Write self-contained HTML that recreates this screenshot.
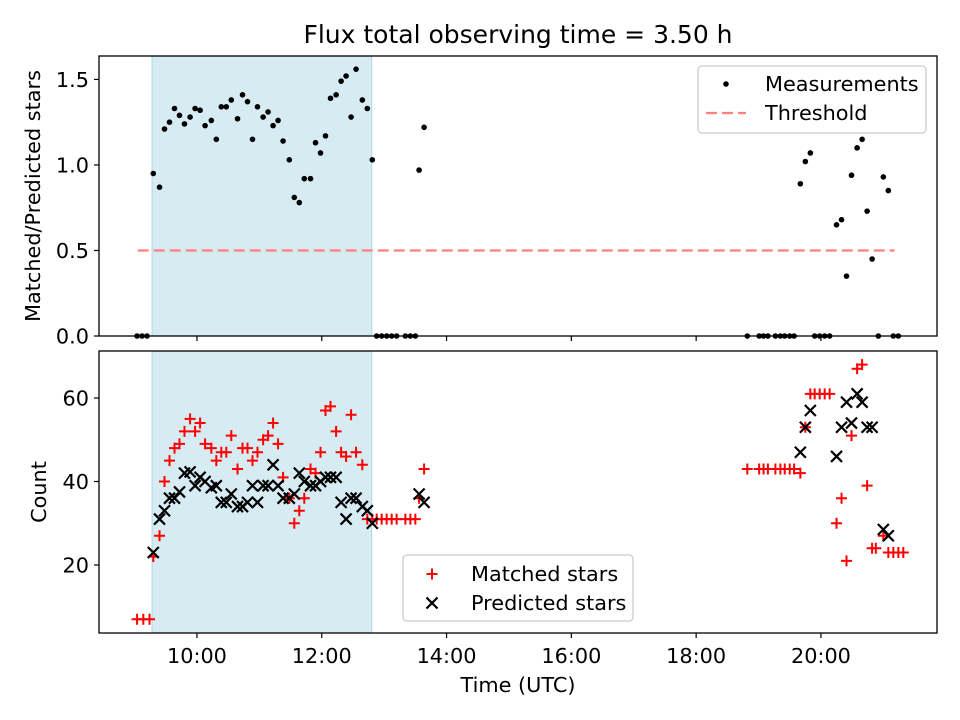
<!DOCTYPE html>
<html><head><meta charset="utf-8"><style>
body{margin:0;background:#fff}
svg{display:block;font-family:"DejaVu Sans","Liberation Sans",sans-serif}
</style></head><body>
<svg id="chart" width="960" height="720" viewBox="0 0 960 720" xmlns="http://www.w3.org/2000/svg"></svg>
<script>
const ratioTimes=[9.04,9.12,9.20,9.30,9.40,9.48,9.56,9.64,9.72,9.80,9.89,9.97,10.05,10.13,10.23,10.31,10.39,10.47,10.55,10.65,10.73,10.81,10.89,10.97,11.06,11.14,11.22,11.30,11.38,11.48,11.56,11.64,11.72,11.82,11.90,11.98,12.06,12.14,12.23,12.31,12.39,12.47,12.55,12.65,12.73,12.81,12.88,12.96,13.04,13.12,13.20,13.34,13.42,13.50,13.56,13.64,18.82,19.01,19.08,19.15,19.27,19.35,19.42,19.50,19.57,19.67,19.75,19.83,19.90,19.98,20.06,20.14,20.25,20.33,20.41,20.49,20.58,20.66,20.74,20.82,20.92,21.00,21.08,21.16,21.24];
const ratioValues=[0,0,0,0.95,0.87,1.21,1.25,1.33,1.29,1.24,1.28,1.33,1.32,1.23,1.26,1.15,1.34,1.34,1.38,1.27,1.41,1.37,1.15,1.34,1.28,1.31,1.23,1.26,1.14,1.03,0.81,0.78,0.92,0.92,1.13,1.07,1.17,1.39,1.41,1.49,1.52,1.28,1.56,1.38,1.33,1.03,0,0,0,0,0,0,0,0,0.97,1.22,0,0,0,0,0,0,0,0,0,0.89,1.02,1.07,0,0,0,0,0.65,0.68,0.35,0.94,1.10,1.15,0.73,0.45,0,0.93,0.85,0,0];
const threshold=0.5;
const thresholdRange=[9.05,21.18];
const countTimes=[9.04,9.14,9.24,9.30,9.40,9.48,9.56,9.64,9.72,9.80,9.89,9.97,10.05,10.13,10.23,10.31,10.39,10.47,10.55,10.65,10.73,10.81,10.89,10.97,11.06,11.14,11.22,11.30,11.38,11.48,11.56,11.64,11.72,11.82,11.90,11.98,12.06,12.14,12.23,12.31,12.39,12.47,12.55,12.65,12.73,12.81,12.88,12.96,13.04,13.12,13.20,13.34,13.42,13.50,13.56,13.64,18.82,19.01,19.08,19.15,19.27,19.35,19.42,19.50,19.57,19.67,19.75,19.83,19.90,19.98,20.06,20.14,20.25,20.33,20.41,20.49,20.58,20.66,20.74,20.82,20.88,21.00,21.08,21.16,21.24,21.32];
const matchedValues=[7,7,7,22,27,40,45,48,49,52,55,52,54,49,48,45,47,47,51,43,48,48,45,47,50,51,54,49,41,36,30,33,36,43,42,47,57,58,52,47,46,56,47,44,31,31,31,31,31,31,31,31,31,31,36,43,43,43,43,43,43,43,43,43,43,42,53,61,61,61,61,61,30,36,21,51,67,68,39,24,24,27,23,23,23,23];
const predictedValues=[null,null,null,23,31,33,36,36,37.5,42,42.3,39,41,40,38.5,39,35,35,37,34,34,35,39,35,39,39,44,39,36,36,37,42,40,39,39,40,41,41,41,35,31,36,36,34,33,30,null,null,null,null,null,null,null,null,37,35,null,null,null,null,null,null,null,null,null,47,53,57,null,null,null,null,46,53,59,54,61,59,53,53,null,28.5,27,null,null,null];
const shadeRange=[9.28,12.80];
const xTickValues=[10,12,14,16,18,20];
const xTickLabels=["10:00","12:00","14:00","16:00","18:00","20:00"];
const topTickValues=[0,0.5,1.0,1.5];
const topTickLabels=["0.0","0.5","1.0","1.5"];
const botTickValues=[20,40,60];
const botTickLabels=["20","40","60"];

const NS="http://www.w3.org/2000/svg";
const svg=document.getElementById('chart');
function mk(tag,attrs,parent,text){const e=document.createElementNS(NS,tag);for(const k in attrs)e.setAttribute(k,attrs[k]);if(text!==undefined)e.textContent=text;(parent||svg).appendChild(e);return e;}
const L=99,R=937,T1=56,B1=336,T2=351,B2=633;
const xmin=8.43,xmax=21.86;
const FS=20.8;
const x=t=>L+(t-xmin)/(xmax-xmin)*(R-L);
const y1=v=>B1-(v-0)/(1.637-0)*(B1-T1);
const y2=v=>B2-(v-3.71)/(71.26-3.71)*(B2-T2);

const title=mk('text',{x:518,y:43,'text-anchor':'middle','font-size':'25'},svg,'Flux total observing time = 3.50 h');



function panel(T,B,yf,ticks,labels,name,showX){
  const g=mk('g',{});
  
  
  const sh=mk('rect',{x:x(shadeRange[0]),y:T,width:x(shadeRange[1])-x(shadeRange[0]),height:B-T,fill:'#add8e6','fill-opacity':0.5,stroke:'#add8e6','stroke-width':1},g);
  
  
  ticks.forEach((v,i)=>{
    mk('line',{x1:L-5,x2:L,y1:yf(v),y2:yf(v),stroke:'#000','stroke-width':1.2},g);
    const t=mk('text',{x:L-10,y:yf(v)+7.5,'text-anchor':'end','font-size':FS},g,labels[i]);
    
    
  });
  xTickValues.forEach((v,i)=>{
    mk('line',{x1:x(v),x2:x(v),y1:B,y2:B+5,stroke:'#000','stroke-width':1.2},g);
    if(showX){const t=mk('text',{x:x(v),y:663,'text-anchor':'middle','font-size':FS},g,xTickLabels[i]);
      
      }
  });
  return g;
}
const g1=panel(T1,B1,y1,topTickValues,topTickLabels,'ratio-panel',false);
const th=mk('line',{x1:x(thresholdRange[0]),x2:x(thresholdRange[1]),y1:y1(threshold),y2:y1(threshold),stroke:'#ff7f7f','stroke-width':2.2,'stroke-dasharray':'11,5'},g1);


ratioTimes.forEach((t,i)=>{
  const c=mk('circle',{cx:x(t),cy:y1(ratioValues[i]),r:2.8,fill:'#000'},g1);
  
  
});
mk('rect',{x:L,y:T1,width:R-L,height:B1-T1,fill:'none',stroke:'#000','stroke-width':1.3},g1);
const yl1=mk('text',{x:0,y:0,'text-anchor':'middle','font-size':FS,transform:`translate(40,${(T1+B1)/2}) rotate(-90)`},svg,'Matched/Predicted stars');



const lg1=mk('g',{});


mk('rect',{x:698,y:66,width:228,height:67,rx:4,fill:'#fff','fill-opacity':0.8,stroke:'#ccc','stroke-width':1.3},lg1);
mk('circle',{cx:726,cy:84,r:2.8,fill:'#000'},lg1);
mk('text',{x:765,y:91,'font-size':FS},lg1,'Measurements');
mk('line',{x1:706,x2:746,y1:113,y2:113,stroke:'#ff7f7f','stroke-width':2.2,'stroke-dasharray':'11,5'},lg1);
mk('text',{x:765,y:120,'font-size':FS},lg1,'Threshold');

const g2=panel(T2,B2,y2,botTickValues,botTickLabels,'count-panel',true);
function plus(cx,cy,p){mk('path',{d:`M${cx-5.5},${cy}H${cx+5.5}M${cx},${cy-5.5}V${cy+5.5}`,stroke:'#f00','stroke-width':2,fill:'none'},p);}
function cross(cx,cy,p){mk('path',{d:`M${cx-5.5},${cy-5.5}L${cx+5.5},${cy+5.5}M${cx-5.5},${cy+5.5}L${cx+5.5},${cy-5.5}`,stroke:'#000','stroke-width':2.2,fill:'none'},p);}
countTimes.forEach((t,i)=>{
  const gm=mk('g',{},g2);
  
  
  plus(x(t),y2(matchedValues[i]),gm);
});
countTimes.forEach((t,i)=>{
  if(predictedValues[i]===null)return;
  const gp=mk('g',{},g2);
  
  
  cross(x(t),y2(predictedValues[i]),gp);
});
mk('rect',{x:L,y:T2,width:R-L,height:B2-T2,fill:'none',stroke:'#000','stroke-width':1.3},g2);
const yl2=mk('text',{x:0,y:0,'text-anchor':'middle','font-size':FS,transform:`translate(46,${(T2+B2)/2}) rotate(-90)`},svg,'Count');


const xl=mk('text',{x:518,y:692,'text-anchor':'middle','font-size':FS},svg,'Time (UTC)');



const lg2=mk('g',{});


mk('rect',{x:403,y:555,width:230,height:66,rx:4,fill:'#fff','fill-opacity':0.8,stroke:'#ccc','stroke-width':1.3},lg2);
plus(432,574,lg2);
mk('text',{x:471,y:581,'font-size':FS},lg2,'Matched stars');
cross(432,603,lg2);
mk('text',{x:471,y:610,'font-size':FS},lg2,'Predicted stars');
</script>
</body></html>
